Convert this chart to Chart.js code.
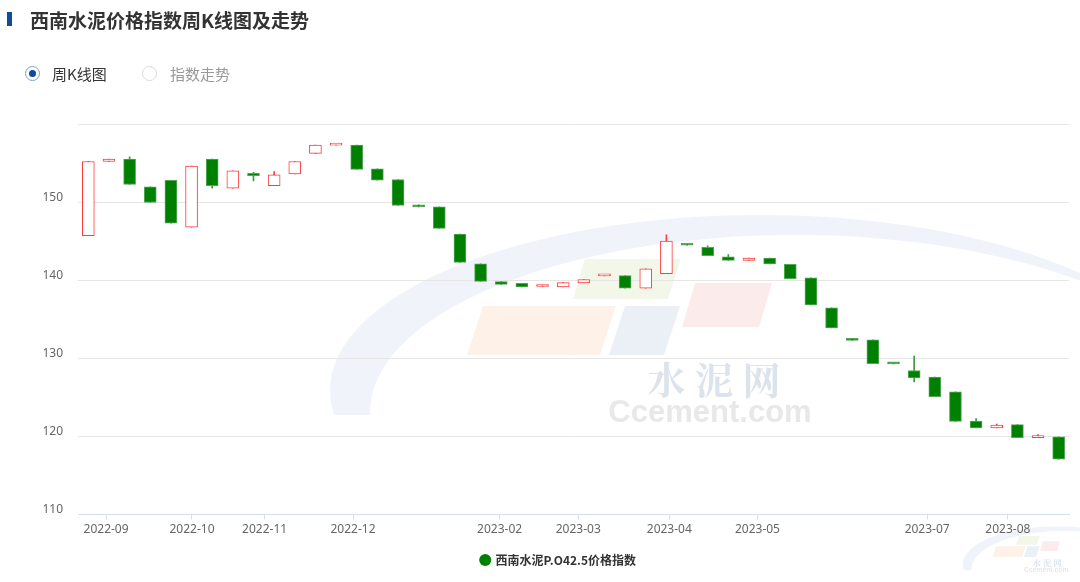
<!DOCTYPE html>
<html>
<head>
<meta charset="utf-8">
<script src="https://cdn.jsdelivr.net/npm/chart.js@4/dist/chart.umd.min.js"></script>
<style>
  body { margin: 0; background: #fff; }
  #page { position: relative; width: 1080px; height: 582px; overflow: hidden; font-family: "Microsoft YaHei", "Noto Sans CJK SC", sans-serif; }
  #wrap { position: absolute; left: 0; top: 0; width: 1080px; height: 582px; }
  .bar { position: absolute; left: 7px; top: 12px; width: 5px; height: 14px; background: #0e4c9c; }
  .title { position: absolute; left: 30px; top: 6px; font-size: 19px; font-weight: bold; color: #333; line-height: 28px; }
  .radio { position: absolute; top: 66px; height: 16px; line-height: 16px; font-size: 15px; }
  .dot { position: absolute; left: 0; top: 0; width: 15px; height: 15px; border-radius: 50%; box-sizing: border-box; }
  .on .dot { border: 1px solid #7d9fcf; }
  .on .dot::after { content: ""; position: absolute; left: 3px; top: 3px; width: 7px; height: 7px; border-radius: 50%; background: #0d4aa0; }
  .off .dot { border: 1px solid #d9d9d9; }
  .radio span { position: absolute; top: 0; white-space: nowrap; }
</style>
</head>
<body>
<div id="page">
  <div id="wrap"><canvas id="myChart"></canvas></div>
  <div class="bar"></div>
  <div class="title">西南水泥价格指数周K线图及走势</div>
  <div class="radio on" style="left:25px"><div class="dot"></div><span style="left:27px;color:#333">周K线图</span></div>
  <div class="radio off" style="left:142px"><div class="dot"></div><span style="left:28px;color:#999">指数走势</span></div>
</div>
<script>
// weekly candles, oldest first
const seriesName = '西南水泥P.O42.5价格指数';
const opens  = [145.7, 155.2, 155.5, 151.95, 152.8, 146.8, 155.5, 151.8, 153.7, 152.1, 153.6, 156.25, 157.3, 157.3, 154.25, 152.9,
                149.65, 149.4, 145.9, 142.1, 139.82, 139.6, 139.2, 139.15, 139.66, 140.55, 140.6, 139.0, 140.85, 144.6, 144.2, 143.0,
                142.55, 142.85, 142.05, 140.3, 136.46, 132.5, 132.38, 129.35, 128.45, 127.6, 125.73, 121.98, 121.1, 121.52, 119.85, 119.94];
const closes = [155.2, 155.5, 152.25, 149.95, 147.3, 154.6, 152.1, 154.0, 153.4, 153.5, 155.2, 157.3, 157.35, 154.2, 152.8, 149.57,
                149.4, 146.63, 142.29, 139.86, 139.48, 139.14, 139.35, 139.7, 140.08, 140.6, 139.0, 141.45, 145.0, 144.5, 143.15, 142.55,
                142.85, 142.08, 140.2, 136.85, 133.9, 132.3, 129.31, 129.3, 127.5, 125.1, 121.94, 121.09, 121.45, 119.86, 120.0, 117.09];
const lows   = [145.7, 155.2, 152.25, 149.95, 147.3, 146.8, 151.8, 151.8, 152.7, 152.1, 153.6, 156.25, 157.3, 154.2, 152.8, 149.57,
                149.4, 146.63, 142.29, 139.86, 139.48, 139.14, 139.2, 139.15, 139.66, 140.55, 139.0, 139.0, 140.85, 144.5, 143.15, 142.55,
                142.55, 142.08, 140.2, 136.85, 133.9, 132.3, 129.31, 129.3, 127.0, 125.1, 121.94, 121.09, 121.1, 119.86, 119.85, 117.09];
const highs  = [155.2, 155.5, 155.8, 151.95, 152.8, 154.6, 155.5, 154.0, 153.8, 153.9, 155.2, 157.3, 157.35, 157.3, 154.25, 152.9,
                149.65, 149.4, 145.9, 142.1, 139.82, 139.6, 139.35, 139.7, 140.08, 140.6, 140.6, 141.45, 145.8, 144.6, 144.4, 143.3,
                142.85, 142.85, 142.05, 140.3, 136.46, 132.5, 132.38, 129.35, 130.3, 127.6, 125.73, 122.3, 121.6, 121.52, 120.25, 119.94];

// month labels and where they sit on the week index axis
const monthLabels = ['2022-09', '2022-10', '2022-11', '2022-12', '2023-02', '2023-03', '2023-04', '2023-05', '2023-07', '2023-08'];
const monthTickAt = [0.86, 5.02, 8.54, 12.82, 19.92, 23.73, 28.14, 32.41, 40.63, 44.54];
const yTicks = [110, 120, 130, 140, 150, 160];

const UP = '#ff3b3b', DOWN = '#008000';
const isUp = opens.map((o, i) => closes[i] >= o);

function drawMark(ctx, ox, oy, s) {
  ctx.save();
  ctx.translate(ox, oy);
  ctx.scale(s, s);
  // swoosh
  ctx.save();
  ctx.beginPath();
  ctx.rect(300, 190, 800, 225);
  ctx.clip();
  ctx.beginPath();
  ctx.ellipse(760, 390, 430, 175, 0, 0, Math.PI * 2);
  ctx.ellipse(795, 412, 425, 177, 0, 0, Math.PI * 2);
  ctx.fillStyle = '#f0f4fa';
  ctx.fill('evenodd');
  ctx.restore();
  // tiles
  const tiles = [
    ['#f3f7ea', [[585, 259], [681, 259], [668, 299], [573, 299]]],
    ['#fcebeb', [[695, 283], [772, 283], [759, 327], [682, 327]]],
    ['#fdf1e8', [[483, 306], [616, 306], [600, 355], [467, 355]]],
    ['#ebeff6', [[625, 306], [680, 306], [664, 355], [609, 355]]]
  ];
  tiles.forEach(([c, pts]) => {
    ctx.beginPath();
    pts.forEach((p, i) => i ? ctx.lineTo(p[0], p[1]) : ctx.moveTo(p[0], p[1]));
    ctx.closePath();
    ctx.fillStyle = c;
    ctx.fill();
  });
  ctx.textAlign = 'center';
  ctx.textBaseline = 'middle';
  ctx.fillStyle = '#dde3ec';
  ctx.font = 'bold 38px "Noto Serif CJK SC", "Noto Sans CJK SC", serif';
  ctx.fillText('水 泥 网', 714, 380);
  ctx.fillStyle = '#e8e8e8';
  ctx.font = 'bold 31px "Liberation Sans", Arial, sans-serif';
  ctx.fillText('Ccement.com', 710, 413);
  ctx.restore();
}

const watermark = {
  id: 'watermark',
  beforeDraw(chart) {
    const ctx = chart.ctx;
    drawMark(ctx, 0, 0, 1);
    drawMark(ctx, 890, 479, 0.22);
  }
};

// nudge the legend to where the original sits
const legendShift = {
  id: 'legendShift',
  afterLayout(chart) {
    const lg = chart.legend;
    lg.left += 24; lg.right += 24;
    lg.top += 2; lg.bottom += 2;
  }
};

const grafica = document.getElementById('myChart').getContext('2d');

new Chart(grafica, {
  type: 'bar',
  data: {
    datasets: [{
      label: seriesName,
      data: opens.map((o, i) => ({ x: i, y: [o, closes[i]] })),
      backgroundColor: isUp.map(u => u ? '#ffffff' : DOWN),
      borderColor: isUp.map(u => u ? UP : '#55a655'),
      borderWidth: 1,
      borderSkipped: false,
      barThickness: 12,
      minBarLength: 2,
      grouped: false,
      order: 0
    }, {
      label: 'wick',
      data: lows.map((l, i) => ({ x: i, y: [l, highs[i]] })),
      backgroundColor: isUp.map(u => u ? UP : '#3f9a3f'),
      borderWidth: 0,
      barThickness: 1,
      grouped: false,
      order: 1
    }]
  },
  options: {
    responsive: true,
    maintainAspectRatio: false,
    animation: false,
    layout: { padding: { top: 124, right: 11, left: 0, bottom: 8 } },
    plugins: {
      tooltip: { enabled: false },
      legend: {
        position: 'bottom',
        onClick: null,
        labels: {
          usePointStyle: true,
          boxWidth: 8.5,
          boxHeight: 8.5,
          padding: 12,
          color: '#333',
          font: { size: 12, weight: 'bold', family: '"Microsoft YaHei", "Noto Sans CJK SC", sans-serif' },
          generateLabels: () => [{
            text: seriesName, fillStyle: DOWN, strokeStyle: DOWN, lineWidth: 0,
            pointStyle: 'circle', hidden: false, datasetIndex: 0, fontColor: '#333'
          }]
        }
      }
    },
    scales: {
      x: {
        type: 'linear',
        offset: false,
        min: -0.5,
        max: opens.length - 0.5,
        afterBuildTicks: scale => { scale.ticks = monthTickAt.map(v => ({ value: v })); },
        border: { color: '#d6dff0' },
        grid: { offset: false, drawOnChartArea: false, drawTicks: true, tickLength: 5, color: '#d6dff0' },
        ticks: {
          autoSkip: false,
          maxRotation: 0,
          padding: 3,
          color: '#666',
          font: { size: 12, family: '"Noto Sans", sans-serif' },
          callback: (v, i) => monthLabels[i]
        }
      },
      y: {
        min: 110,
        max: 160,
        afterBuildTicks: scale => { scale.ticks = yTicks.map(v => ({ value: v })); },
        afterFit: scale => { scale.width = 78; },
        border: { display: false },
        grid: { color: '#e6e6e6', drawTicks: false },
        ticks: {
          padding: 15,
          labelOffset: -5,
          color: '#666',
          font: { size: 12, family: '"Noto Sans", sans-serif' },
          callback: v => v === 160 ? '' : v
        }
      }
    }
  },
  plugins: [watermark, legendShift]
});
</script>
</body>
</html>
